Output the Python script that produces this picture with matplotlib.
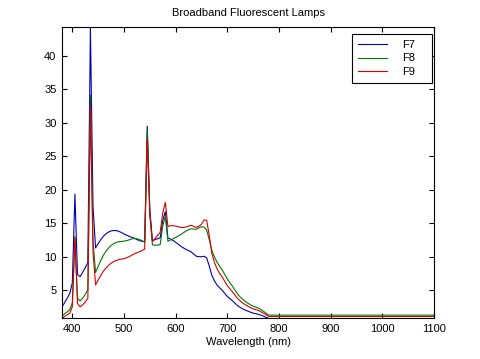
import numpy as np
import matplotlib
matplotlib.use("Agg")
import matplotlib.pyplot as plt

plt.rcParams['font.family'] = ['Liberation Sans', 'DejaVu Sans']

# Wavelengths (nm): 380..780 every 5 nm, then the flat tail to 1100
wavelengths = list(range(380, 781, 5)) + [1100]

F7 = [2.56, 3.18, 3.84, 4.53, 6.15, 19.37, 7.37, 7.05, 7.71, 8.41, 9.15, 44.14,
      17.52, 11.35, 12.00, 12.58, 13.08, 13.45, 13.71, 13.88, 13.95, 13.93, 13.82,
      13.64, 13.43, 13.25, 13.08, 12.93, 12.78, 12.60, 12.44, 12.33, 12.26, 29.52,
      17.05, 12.44, 12.58, 12.72, 12.83, 15.46, 16.75, 12.83, 12.67, 12.45, 12.19,
      11.89, 11.60, 11.35, 11.12, 10.95, 10.76, 10.42, 10.11, 10.04, 10.02, 10.11,
      9.87, 8.65, 7.27, 6.44, 5.83, 5.41, 5.04, 4.57, 4.12, 3.77, 3.46, 3.08, 2.73,
      2.47, 2.25, 2.06, 1.90, 1.75, 1.62, 1.54, 1.45, 1.32, 1.17, 0.99, 0.81, 0.81]

F8 = [1.21, 1.50, 1.81, 2.13, 3.17, 13.08, 3.83, 3.45, 3.86, 4.42, 5.09, 34.10,
      12.42, 7.68, 8.60, 9.46, 10.24, 10.84, 11.33, 11.71, 11.98, 12.17, 12.28,
      12.32, 12.35, 12.44, 12.55, 12.68, 12.77, 12.72, 12.60, 12.43, 12.22, 28.96,
      16.51, 11.79, 11.76, 11.77, 11.84, 14.61, 16.11, 12.34, 12.53, 12.72, 12.92,
      13.12, 13.34, 13.61, 13.87, 14.07, 14.20, 14.16, 14.13, 14.34, 14.50, 14.46,
      14.00, 12.58, 10.99, 9.98, 9.22, 8.62, 8.07, 7.39, 6.71, 6.16, 5.63, 5.03,
      4.46, 4.02, 3.66, 3.36, 3.09, 2.85, 2.65, 2.51, 2.37, 2.15, 1.89, 1.61, 1.32, 1.32]

F9 = [0.90, 1.12, 1.36, 1.60, 2.59, 12.80, 3.05, 2.56, 2.86, 3.30, 3.82, 32.62,
      10.77, 5.84, 6.57, 7.25, 7.86, 8.35, 8.75, 9.06, 9.31, 9.48, 9.61, 9.68,
      9.74, 9.88, 10.04, 10.26, 10.48, 10.63, 10.78, 10.96, 11.18, 27.71, 16.29,
      12.28, 12.74, 13.21, 13.65, 16.57, 18.14, 14.55, 14.65, 14.66, 14.61, 14.50,
      14.39, 14.40, 14.47, 14.62, 14.72, 14.55, 14.40, 14.58, 14.88, 15.51, 15.47,
      13.20, 10.57, 9.18, 8.25, 7.57, 7.03, 6.35, 5.72, 5.25, 4.80, 4.29, 3.80,
      3.43, 3.12, 2.86, 2.64, 2.43, 2.26, 2.14, 2.02, 1.83, 1.61, 1.38, 1.12, 1.12]

series_names = ['F7', 'F8', 'F9']
series_colors = ['#0000b4', '#007800', '#d80000']

x_ticks = [400, 500, 600, 700, 800, 900, 1000, 1100]
y_ticks = [5, 10, 15, 20, 25, 30, 35, 40]

fig = plt.figure(figsize=(4.8, 3.59), dpi=100)
ax = fig.add_axes([62/480, 1 - 318.3/359, 372/480, 291.3/359])

for data, name, col in zip([F7, F8, F9], series_names, series_colors):
    ax.plot(wavelengths, data, color=col, lw=0.8, label=name)

ax.set_xlim(380, 1100)
ax.set_ylim(0.85, 44.3)
ax.set_xticks(x_ticks)
ax.set_yticks(y_ticks)
ax.tick_params(direction='in', top=True, right=True, length=3.5, width=0.8,
               labelsize=8, pad=4, colors='black')
for s in ax.spines.values():
    s.set_linewidth(0.8)

ax.set_title('Broadband Fluorescent Lamps', fontsize=8, pad=8)
ax.set_xlabel('Wavelength (nm)', fontsize=8, labelpad=2)

leg_left = (351.7 - 62) / 372
leg_top = 1 - (34 - 27) / 291.3
leg_w = 80 / 372
leg = ax.legend(loc='upper left', bbox_to_anchor=(leg_left, leg_top - 0.2, leg_w, 0.2),
                mode='expand', borderaxespad=0, fancybox=False, framealpha=1,
                edgecolor='black', fontsize=8, handlelength=2.6,
                handletextpad=1.35, labelspacing=0.3, borderpad=0.55)
leg.get_frame().set_linewidth(0.8)

fig.savefig('out.png', dpi=100)
